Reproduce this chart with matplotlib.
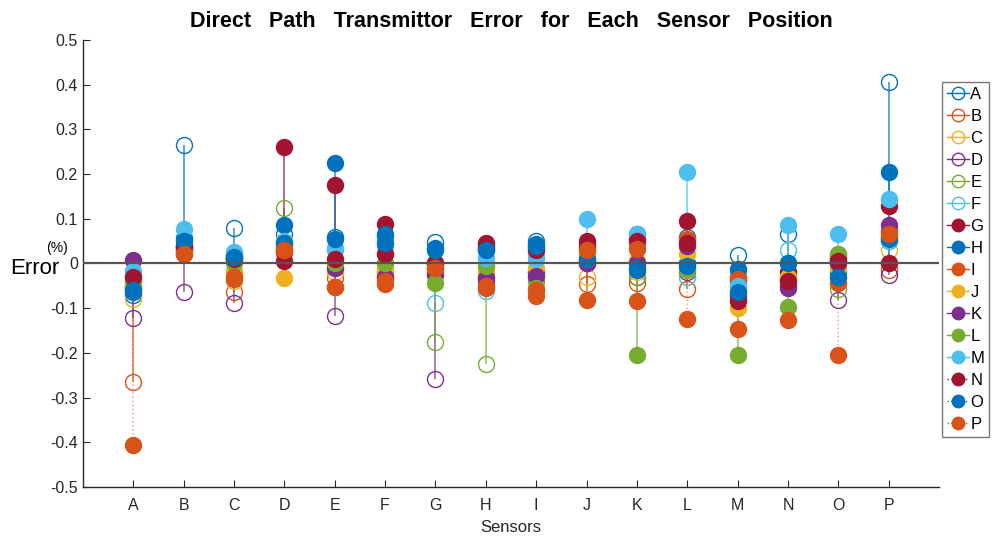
import numpy as np
import matplotlib
matplotlib.use("Agg")
import matplotlib.pyplot as plt
from matplotlib.lines import Line2D

plt.rcParams["font.family"] = ["Liberation Sans", "DejaVu Sans"]

sensors = list("ABCDEFGHIJKLMNOP")
series_names = list("ABCDEFGHIJKLMNOP")
yticks = [-0.5, -0.4, -0.3, -0.2, -0.1, 0, 0.1, 0.2, 0.3, 0.4, 0.5]

# error (%) of each series at sensors A..P
err_A = [-0.07, 0.265, 0.08, 0.065, 0.06, 0.06, 0.048, 0.03, 0.05, 0.0, 0.065, 0.06, 0.018, 0.066, 0.01, 0.405]
err_B = [-0.265, 0.03, -0.065, 0.03, -0.032, -0.02, -0.02, -0.03, -0.02, -0.045, -0.043, -0.058, -0.03, -0.03, 0.0, -0.015]
err_C = [-0.08, 0.02, -0.04, 0.05, -0.02, -0.02, -0.01, -0.02, -0.03, -0.03, -0.02, -0.03, -0.05, -0.02, -0.02, 0.03]
err_D = [-0.123, -0.065, -0.088, 0.04, -0.118, -0.03, -0.258, -0.04, -0.02, 0.0, -0.03, -0.02, -0.04, -0.05, -0.082, -0.025]
err_E = [-0.05, 0.03, -0.02, 0.124, 0.0, 0.02, -0.175, -0.226, -0.04, 0.02, -0.03, -0.01, -0.06, -0.04, -0.057, 0.05]
err_F = [-0.03, 0.06, 0.01, 0.04, 0.03, 0.05, -0.088, -0.062, 0.02, 0.03, 0.04, -0.03, -0.02, 0.03, 0.02, 0.05]
err_G = [-0.055, 0.04, 0.015, 0.26, 0.175, 0.088, 0.0, 0.045, 0.035, 0.05, 0.055, 0.095, -0.075, -0.02, 0.015, 0.128]
err_H = [-0.065, 0.055, 0.012, 0.086, 0.225, 0.065, 0.035, 0.035, 0.043, 0.005, -0.015, 0.0, -0.012, 0.002, -0.02, 0.205]
err_I = [-0.05, 0.02, -0.035, 0.024, -0.052, -0.045, 0.0, -0.055, -0.072, -0.082, -0.084, 0.055, -0.035, -0.032, -0.043, 0.072]
err_J = [-0.045, 0.03, -0.02, -0.032, -0.01, -0.01, -0.01, -0.01, -0.01, 0.02, 0.006, 0.02, -0.1, -0.03, -0.012, 0.06]
err_K = [0.008, 0.035, 0.02, 0.03, -0.01, -0.03, -0.025, -0.032, -0.028, 0.0, 0.0, 0.04, -0.07, -0.055, 0.0, 0.085]
err_L = [-0.04, 0.04, 0.0, 0.045, 0.0, 0.0, -0.044, -0.005, -0.054, 0.01, -0.204, -0.015, -0.204, -0.097, 0.02, 0.06]
err_M = [-0.018, 0.077, 0.025, 0.05, 0.035, 0.04, 0.0, 0.013, 0.01, 0.1, 0.065, 0.205, -0.05, 0.086, 0.066, 0.145]
err_N = [-0.03, 0.04, 0.01, 0.006, 0.01, 0.02, 0.0, 0.04, 0.03, 0.04, 0.05, 0.045, -0.085, -0.04, 0.005, 0.0]
err_O = [-0.06, 0.05, 0.015, 0.045, 0.055, 0.045, 0.03, 0.03, 0.04, 0.01, -0.01, -0.005, -0.065, 0.0, -0.03, 0.055]
err_P = [-0.405, 0.02, -0.03, 0.03, -0.052, -0.04, -0.01, -0.05, -0.06, 0.03, 0.033, -0.125, -0.146, -0.127, -0.204, 0.065]

all_err = [err_A, err_B, err_C, err_D, err_E, err_F, err_G, err_H,
           err_I, err_J, err_K, err_L, err_M, err_N, err_O, err_P]

matlab_colors = ["#0072BD", "#D95319", "#EDB120", "#7E2F8E",
                 "#77AC30", "#4DBEEE", "#A2142F"]

fig = plt.figure(figsize=(9.98, 5.39), dpi=100)
ax = fig.add_axes([0.083, 0.0965, 0.858, 0.8295])

x = np.arange(1, len(sensors) + 1)
handles = []
for i, (name, vals) in enumerate(zip(series_names, all_err)):
    col = matlab_colors[i % 7]
    filled = i >= 6
    ls = ":" if i >= 13 else "-"
    ax.vlines(x, 0, vals, colors=col, linestyles=ls, linewidth=1.1,
              alpha=0.5 if ls == ":" else 0.8, zorder=2 + i * 0.01)
    ax.plot(x, vals, "o", ms=11.5, mec=col, mew=1.0,
            mfc=col if filled else "none", zorder=3 + i * 0.01)
    handles.append(Line2D([0], [0], color=col, ls=ls, lw=1.0, marker="o", ms=9,
                          mec=col, mfc=col if filled else "none", mew=1.0))

ax.axhline(0, color="#555555", lw=1.6, zorder=10)

ax.set_xlim(0, 17)
ax.set_ylim(-0.5, 0.5)
ax.set_xticks(x)
ax.set_xticklabels(sensors)
ax.set_yticks(yticks)
ax.set_yticklabels([f"{v:g}" for v in yticks])
ax.tick_params(direction="in", length=5, labelsize=11.5, colors="#262626")
ax.tick_params(axis="x", pad=8)
for s in ["top", "right"]:
    ax.spines[s].set_visible(False)
for s in ["left", "bottom"]:
    ax.spines[s].set_color("#262626")
    ax.spines[s].set_linewidth(1.0)

ax.set_title("Direct   Path   Transmittor   Error   for   Each   Sensor   Position",
             fontsize=15.5, fontweight="bold", pad=9)
ax.set_xlabel("Sensors", fontsize=12, color="#262626", labelpad=5)
fig.text(0.010, 1 - 274 / 539, "Error", fontsize=16, ha="left", va="baseline")
fig.text(0.046, 1 - 252 / 539, "(%)", fontsize=10, ha="left", va="baseline")

leg = fig.legend(handles, series_names, loc="upper left",
                 bbox_to_anchor=(0.944, 0.848), frameon=True, fancybox=False,
                 fontsize=12, handlelength=1.3, handletextpad=0.1,
                 labelspacing=0.42, borderpad=0.3, borderaxespad=0)
leg.get_frame().set_edgecolor("#555555")
leg.get_frame().set_linewidth(1.0)

fig.savefig("out.png", dpi=100)
